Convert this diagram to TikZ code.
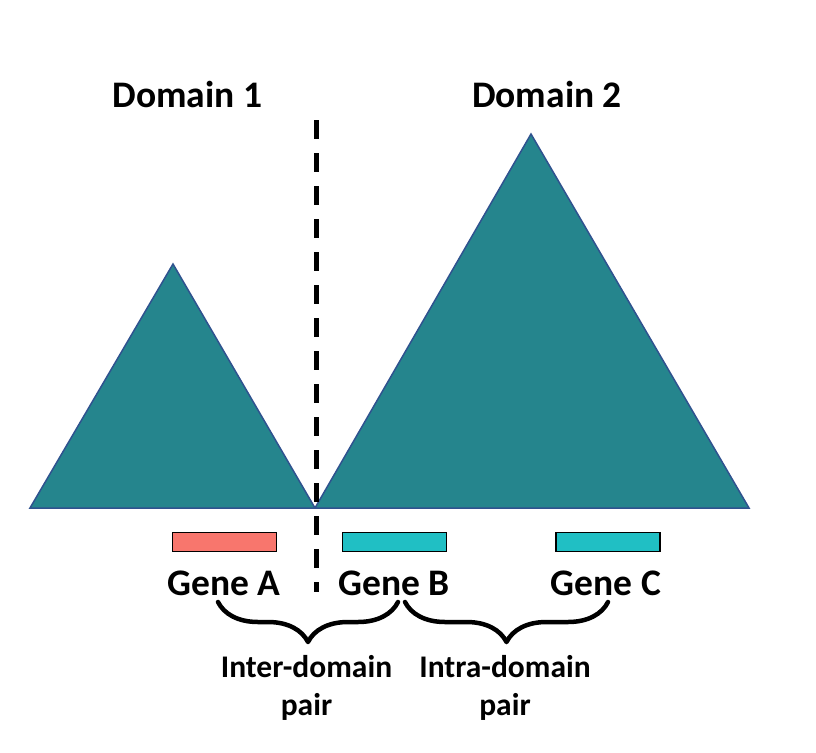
\documentclass[tikz,border=0pt]{standalone}
\usepackage{fontspec}
\setmainfont{Carlito}
\usetikzlibrary{decorations.pathreplacing}
\definecolor{teal1}{RGB}{37,133,141}
\definecolor{edge1}{RGB}{47,82,143}
\definecolor{salmon1}{RGB}{248,118,109}
\definecolor{cyan1}{RGB}{32,191,196}
\begin{document}
\begin{tikzpicture}[x=1pt,y=-1pt,
  domainshape/.style={fill=teal1,draw=edge1,line width=1.5pt,line join=miter},
  genebox/.style={draw=black,line width=1.6pt,minimum width=104pt,minimum height=19pt,inner sep=0pt},
  lbl/.style={font=\fontsize{37.5}{45}\selectfont\bfseries,inner sep=0pt,anchor=base},
  plbl/.style={font=\fontsize{31.5}{38}\selectfont\bfseries,inner sep=0pt,anchor=base},
  bracestyle/.style={decorate,decoration={brace,mirror,amplitude=40pt},line width=4.5pt,line cap=round,line join=round},
  boundary/.style={line width=5pt,dash pattern=on 19pt off 14pt}]
\useasboundingbox (0,0) rectangle (816,752);
% domains
\coordinate (d1l) at (30,508);
\coordinate (d1t) at (173,264);
\coordinate (mid) at (315,508);
\coordinate (d2t) at (531,134);
\coordinate (d2r) at (749,508);
\draw[domainshape] (d1l) -- (d1t) -- (mid) -- cycle;
\draw[domainshape] (mid) -- (d2t) -- (d2r) -- cycle;
% boundary
\coordinate (dtop) at (316,120);
\coordinate (dbot) at (316,592);
\draw[boundary] (dtop) -- (dbot);
% domain labels
\node[lbl] (dom1) at (187.5,107) {Domain 1};
\node[lbl] (dom2) at (547,107) {Domain 2};
% genes
\node[genebox,fill=salmon1] (ga) at (224.5,542) {};
\node[genebox,fill=cyan1] (gb) at (394.5,542) {};
\node[genebox,fill=cyan1] (gc) at (608,542) {};
\node[lbl] (la) at (224,595) {Gene A};
\node[lbl] (lb) at (394,595) {Gene B};
\node[lbl] (lc) at (606,595) {Gene C};
% braces
\coordinate (b1s) at (218,602);
\coordinate (b1e) at (398,602);
\coordinate (b2s) at (405,602);
\coordinate (b2e) at (608,602);
\draw[bracestyle] (b1s) -- (b1e);
\draw[bracestyle] (b2s) -- (b2e);
% pair labels
\node[plbl] (p1a) at (306.5,677) {Inter-domain};
\node[plbl] (p1b) at (306.5,715) {pair};
\node[plbl] (p2a) at (505,677) {Intra-domain};
\node[plbl] (p2b) at (505,715) {pair};
\end{tikzpicture}
\end{document}
